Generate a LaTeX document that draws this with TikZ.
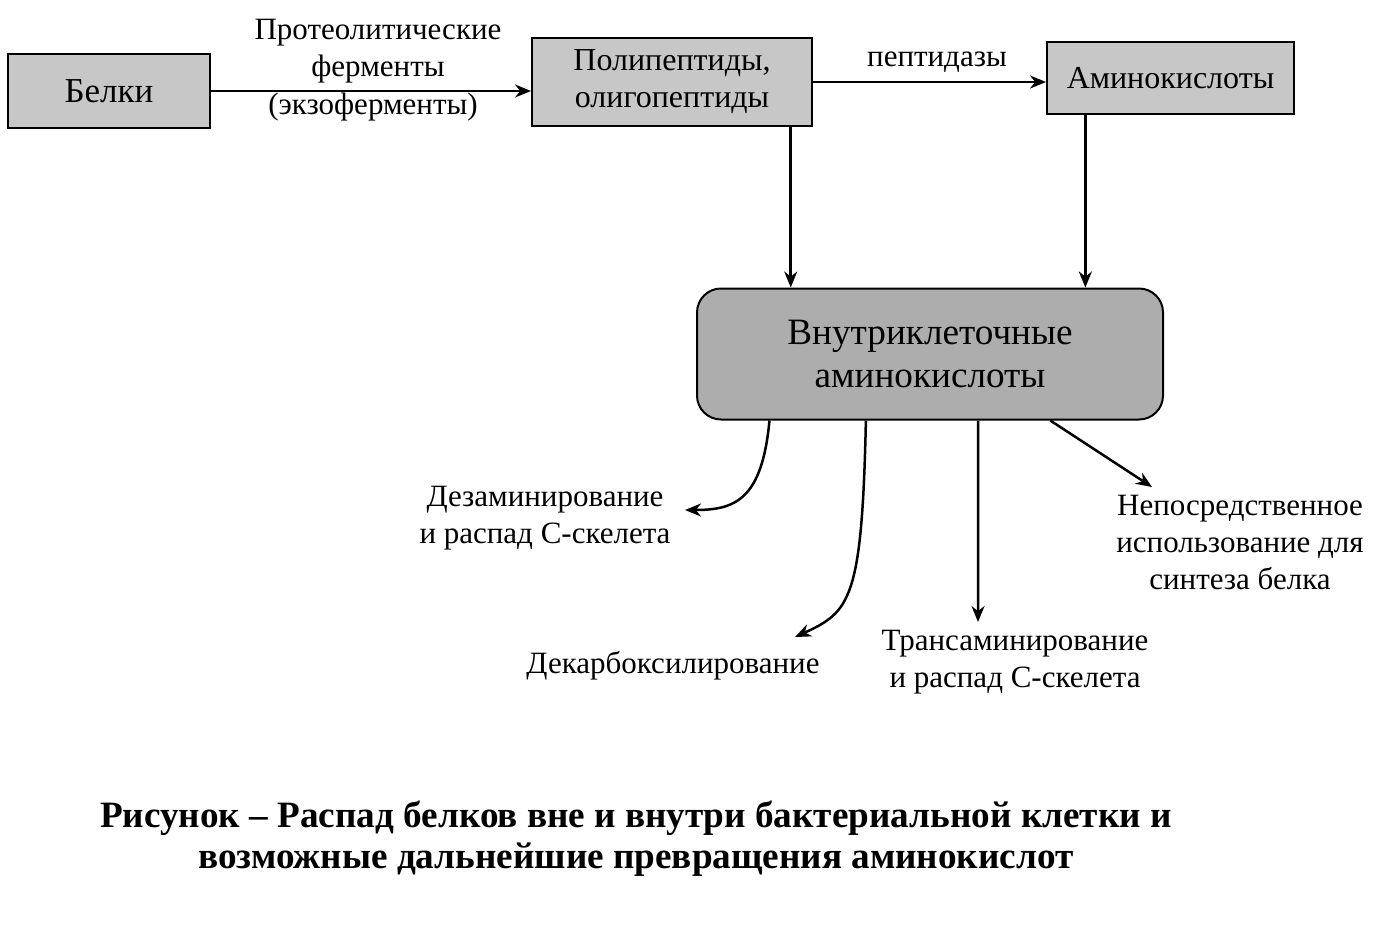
\documentclass[tikz,border=0pt]{standalone}
\usepackage{fontspec}
\setmainfont{Liberation Serif}
\usetikzlibrary{arrows.meta,calc}
\begin{document}
\begin{tikzpicture}[x=0.5pt,y=-0.5pt,
  box/.style={draw=black,line width=1pt,fill=black!22,inner sep=0pt,align=center,font=\fontsize{16}{18.5}\selectfont},
  lbl/.style={align=center,inner sep=0pt,font=\fontsize{15.5}{18.5}\selectfont},
  arr/.style={line width=1.25pt,-{Stealth[length=8pt,width=6.5pt]}}]
\useasboundingbox (0,0) rectangle (1390,942);
\fill[white] (0,0) rectangle (1390,942);
\node[box,minimum width=101pt,minimum height=37pt,font=\fontsize{17.5}{20}\selectfont] (belki) at (109,91) {Белки};
\node[box,minimum width=140pt,minimum height=44pt] (poly) at (672,82) {Полипептиды,\\олигопептиды};
\node[box,minimum width=123.5pt,minimum height=36pt] (amino) at (1170.5,78) {Аминокислоты};
\node[box,fill=black!32,rounded corners=12pt,minimum width=233pt,minimum height=65.5pt,font=\fontsize{18.6}{21.5}\selectfont] (intra) at (930,354) {Внутриклеточные\\аминокислоты};
% labels
\node[lbl] (prot) at (378,51) {Протеолитические\\ферменты};
\node[lbl] (exo) at (373,107) {(экзоферменты)};
\node[lbl] (pept) at (937,62) {пептидазы};
\node[lbl] (dez) at (545,518) {Дезаминирование\\и распад С-скелета};
\node[lbl] (dek) at (673,666) {Декарбоксилирование};
\node[lbl] (trans) at (1015,662) {Трансаминирование\\и распад С-скелета};
\node[lbl] (nep) at (1240,542) {Непосредственное\\использование для\\синтеза белка};
\node[align=center,inner sep=0pt,font=\fontsize{18.6}{20.5}\selectfont\bfseries] (cap) at (636,839) {Рисунок -- Распад белков вне и внутри бактериальной клетки и\\возможные дальнейшие превращения аминокислот};
% connectors
\draw[arr] (belki.east) -- (belki.east -| poly.west);
\draw[arr] (poly.east) -- (poly.east -| amino.west);
\coordinate (p1) at ($(poly.south west)!0.921!(poly.south east)$);
\coordinate (a1) at ($(amino.south west)!0.158!(amino.south east)$);
\draw[arr] (p1) -- (p1 |- intra.north);
\draw[arr] (a1) -- (a1 |- intra.north);
\coordinate (i1) at ($(intra.south west)!0.157!(intra.south east)$);
\coordinate (i2) at ($(intra.south west)!0.363!(intra.south east)$);
\coordinate (i3) at ($(intra.south west)!0.603!(intra.south east)$);
\coordinate (i4) at ($(intra.south west)!0.757!(intra.south east)$);
\coordinate (e1) at (685,510);
\coordinate (e2) at (795,637);
\coordinate (e3) at (978,622);
\coordinate (e4) at (1152,487);
\draw[arr] (i1) .. controls (762,500) and (735,510) .. (e1);
\draw[arr] (i2) .. controls (862,600) and (850,612) .. (e2);
\draw[arr] (i3) -- (e3);
\draw[arr] (i4) -- (e4);
\end{tikzpicture}
\end{document}
